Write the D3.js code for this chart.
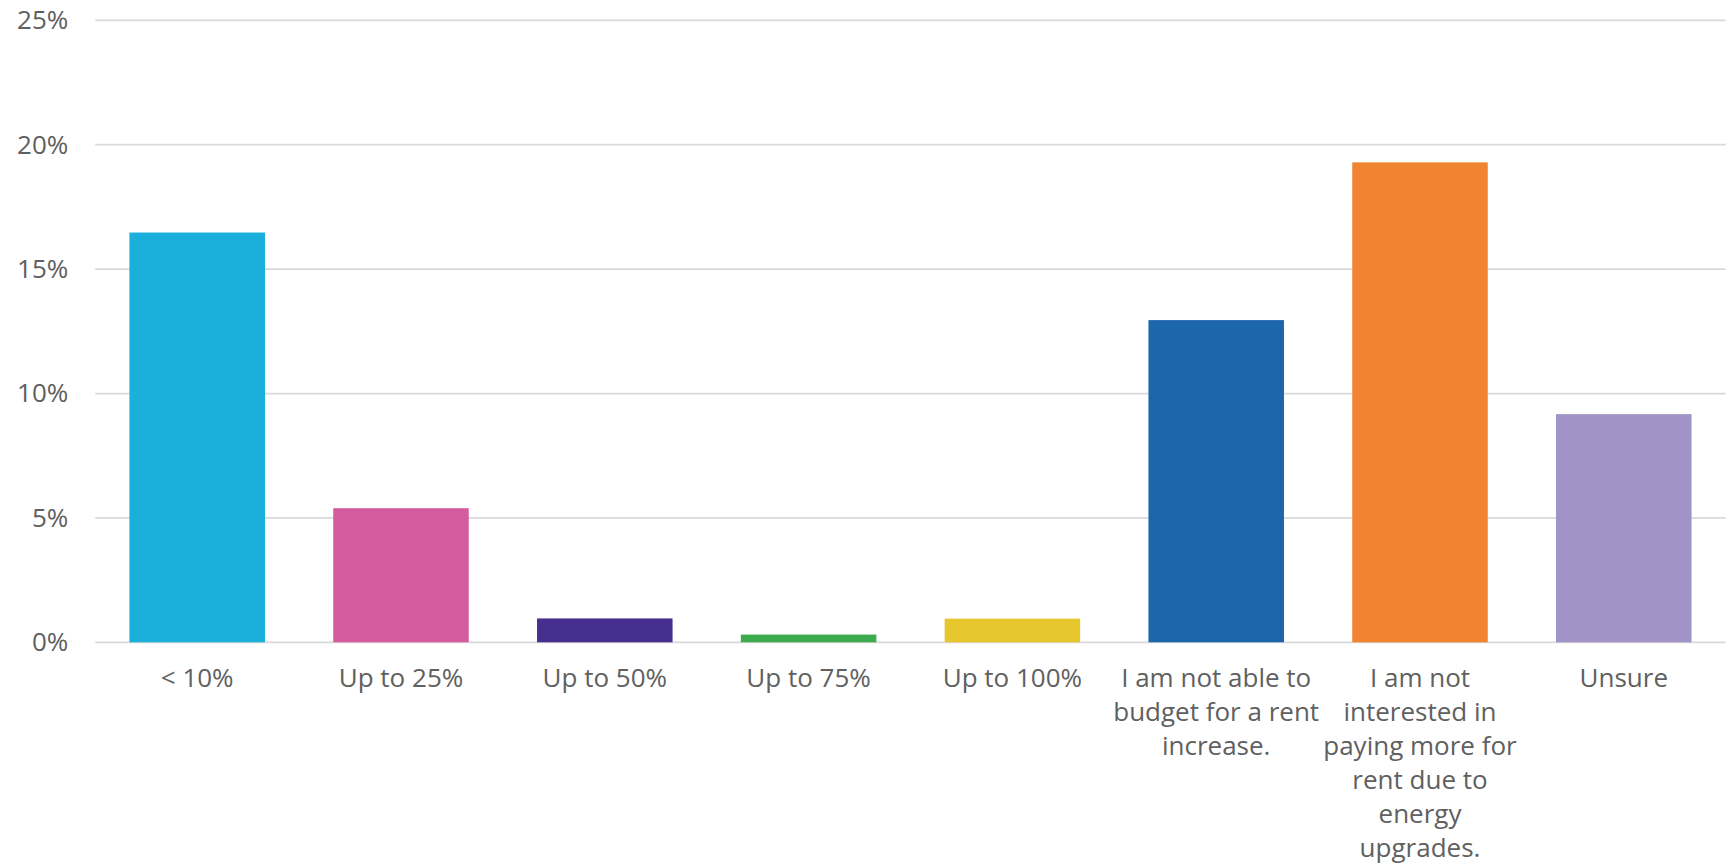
<!DOCTYPE html>
<html>
<head>
<meta charset="utf-8">
<script src="https://cdn.jsdelivr.net/npm/d3@7"></script>
<style>
  html, body { margin: 0; padding: 0; background: #ffffff; }
  svg { display: block; }
</style>
</head>
<body>
<svg id="chart" width="1733" height="866"></svg>
<script>
// ---- data ----
const categories = [
  "< 10%",
  "Up to 25%",
  "Up to 50%",
  "Up to 75%",
  "Up to 100%",
  "I am not able to\nbudget for a rent\nincrease.",
  "I am not\ninterested in\npaying more for\nrent due to\nenergy\nupgrades.",
  "Unsure"
];
const values = [0.1647, 0.0539, 0.0096, 0.0031, 0.0095, 0.1295, 0.1929, 0.0917];
const barColors = ["#1AB0DB", "#D45B9E", "#472F8F", "#3DAA4D", "#E6C82E", "#1C66AC", "#F18430", "#A193C6"];
const yTicks = [0, 0.05, 0.10, 0.15, 0.20, 0.25];

// ---- layout ----
const plotLeft = 95.3, plotRight = 1725.7, plotTop = 20.3, plotBottom = 642.3;
const svg = d3.select("#chart");
const font = "'Open Sans', 'Noto Sans', sans-serif";
const textColor = "#606060";

const x = d3.scaleBand().domain(d3.range(categories.length)).range([plotLeft, plotRight])
  .paddingInner(0.335).paddingOuter(0.1675);
const y = d3.scaleLinear().domain([0, 0.25]).range([plotBottom, plotTop]);

// gridlines
svg.append("g").selectAll("line").data(yTicks).join("line")
  .attr("x1", plotLeft).attr("x2", plotRight)
  .attr("y1", d => y(d)).attr("y2", d => y(d))
  .attr("stroke", "#d9d9d9").attr("stroke-width", 1.75);

// y axis labels
const yAxis = d3.axisLeft(y).tickValues(yTicks).tickFormat(d3.format(".0%")).tickSize(0).tickPadding(0);
const ya = svg.append("g").attr("transform", `translate(${plotLeft - 27},0)`).call(yAxis);
ya.select(".domain").remove();
ya.selectAll("text")
  .attr("font-family", font).attr("font-size", 26).attr("fill", textColor)
  .attr("dy", "0.32em");

// bars
svg.append("g").selectAll("rect").data(values).join("rect")
  .attr("x", (d, i) => x(i))
  .attr("width", x.bandwidth())
  .attr("y", d => y(d))
  .attr("height", d => y(0) - y(d))
  .attr("fill", (d, i) => barColors[i]);

// x labels
const xl = svg.append("g");
const firstBaseline = 687, lineStep = 34;
categories.forEach((c, i) => {
  const cx = x(i) + x.bandwidth() / 2;
  const t = xl.append("text")
    .attr("x", cx)
    .attr("y", firstBaseline)
    .attr("text-anchor", "middle")
    .attr("font-family", font).attr("font-size", 26).attr("fill", textColor);
  c.split("\n").forEach((line, k) => {
    t.append("tspan").attr("x", cx).attr("y", firstBaseline + k * lineStep).text(line);
  });
});
</script>
</body>
</html>
